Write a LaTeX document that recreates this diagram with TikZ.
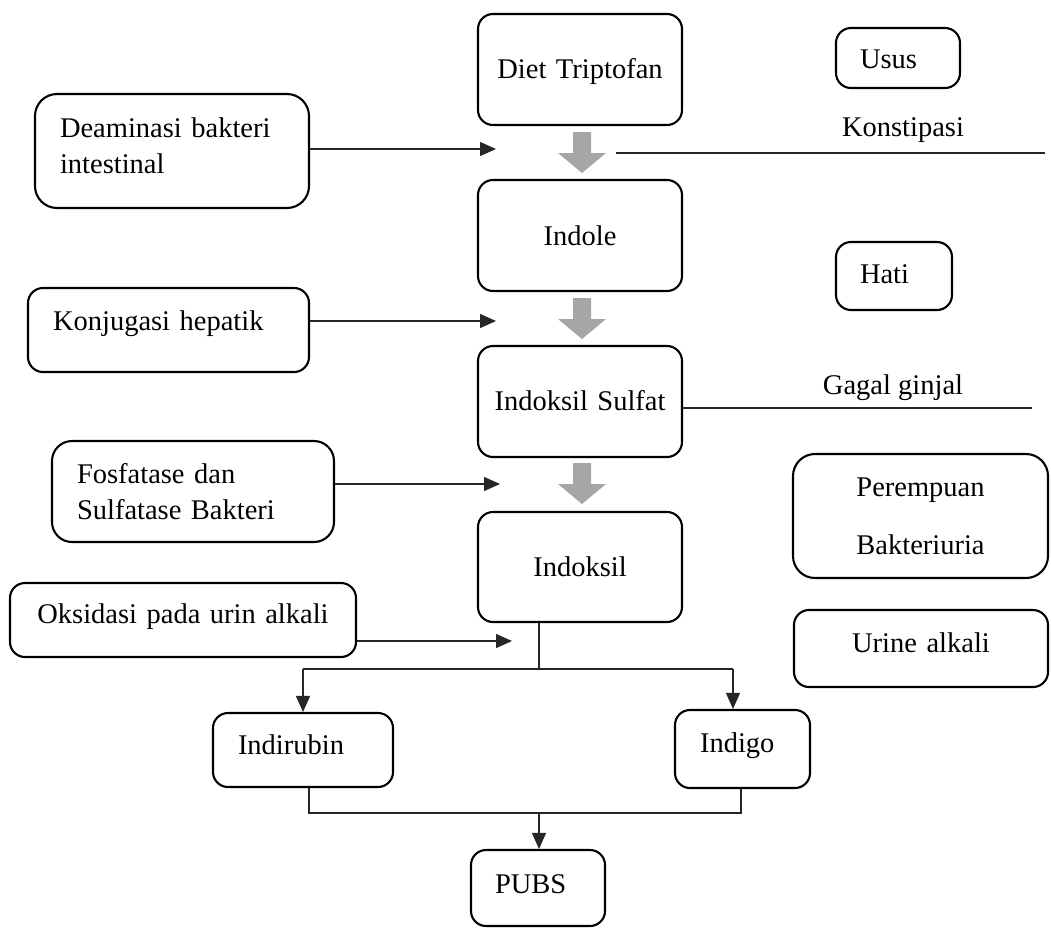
\documentclass[tikz,border=0pt]{standalone}
\usepackage{fontspec}
\setmainfont{Liberation Serif}
\usetikzlibrary{arrows.meta}
\newcommand\fsz{\fontsize{28.5pt}{36pt}\selectfont}
\newcommand\garr[1]{\fill[garrow] (#1) ++(-9,0) -- ++(18,0) -- ++(0,21) -- ++(15,0) -- ++(-24,20) -- ++(-24,-20) -- ++(15,0) -- cycle;}
\begin{document}
\begin{tikzpicture}[x=1pt,y=-1pt,
  box/.style={draw, line width=2.1pt, rounded corners=15pt, inner ysep=0pt, font=\fsz},
  cbox/.style={box, align=center, inner xsep=10pt},
  lbox/.style={box, align=left, inner xsep=25pt},
  conn/.style={line width=1.2pt, draw=black!85},
  arr/.style={conn, -{Triangle[length=16pt,width=14pt]}},
  garrow/.style={fill=black!35},
  lbl/.style={font=\fsz, anchor=base, inner sep=0pt}]
\useasboundingbox (0,0) rectangle (1051,927);

% main column
\node[cbox, text width=184pt, minimum height=111pt, text height=21pt, text depth=4pt] (diet) at (580,69.5) {Diet Triptofan};
\node[cbox, text width=184pt, minimum height=111pt, text height=21pt, text depth=2pt] (indole) at (580,235.5) {Indole};
\node[cbox, text width=184pt, minimum height=111pt, text height=21pt, text depth=4pt] (isul) at (580,401.5) {Indoksil Sulfat};
\node[cbox, text width=184pt, minimum height=110pt, text height=21pt, text depth=3pt] (indoksil) at (580,567) {Indoksil};

% grey arrows
\coordinate (g1) at (582,132);
\coordinate (g2) at (582,298);
\coordinate (g3) at (582,463);
\garr{g1}
\garr{g2}
\garr{g3}

% left boxes
\node[lbox, text width=224pt, minimum height=114pt, rounded corners=22pt] (deam) at (172,151) {Deaminasi bakteri\\intestinal\vspace{10pt}};
\node[lbox, text width=231pt, minimum height=84pt, text height=21pt, text depth=21pt] (konj) at (168.5,330) {Konjugasi hepatik};
\node[lbox, text width=232pt, minimum height=101pt, rounded corners=20pt] (fosf) at (193,491.5) {Fosfatase dan\\Sulfatase Bakteri};
\node[cbox, text width=326pt, minimum height=74pt, text height=21pt, text depth=15pt] (oks) at (183,620) {Oksidasi pada urin alkali};

\coordinate (a1) at (496,149);
\coordinate (a2) at (496,321);
\coordinate (a3) at (500,484);
\coordinate (a4) at (512,641);
\draw[arr] (deam.east |- a1) -- (a1);
\draw[arr] (konj.east |- a2) -- (a2);
\draw[arr] (fosf.east |- a3) -- (a3);
\draw[arr] (oks.east |- a4) -- (a4);

% right side
\node[lbox, inner xsep=24pt, text width=76pt, minimum height=60pt, text height=21pt, text depth=1pt] (usus) at (898,58) {Usus};
\node[lbox, inner xsep=24pt, text width=68pt, minimum height=68pt, text height=21pt, text depth=7pt] (hati) at (894,276) {Hati};
\node[cbox, text width=235pt, minimum height=124pt, rounded corners=22pt] (perem) at (920.5,516) {Perempuan\\[22pt]Bakteriuria};
\node[cbox, text width=234pt, minimum height=77pt, text height=21pt, text depth=14pt] (urine) at (921,648.5) {Urine alkali};

\coordinate (k1) at (616,153);
\coordinate (k2) at (1045,153);
\draw[conn] (k1) -- (k2);
\node[lbl] (konst) at (903,136) {Konstipasi};

\coordinate (gg) at (1032,408);
\draw[conn] (isul.east |- gg) -- (gg);
\node[lbl] (gagal) at (893,394) {Gagal ginjal};

% bottom part
\node[lbox, text width=130pt, minimum height=74pt, text height=21pt, text depth=13pt] (indir) at (303,750) {Indirubin};
\node[lbox, text width=85pt, minimum height=78pt, text height=21pt, text depth=15pt] (indigo) at (742.5,749) {Indigo};
\node[lbox, inner xsep=24pt, text width=86pt, minimum height=76pt, text height=21pt, text depth=11pt] (pubs) at (538,888) {PUBS};

\coordinate (j) at (539,669);
\coordinate (h1) at (303,669);
\coordinate (h2) at (733,669);
\draw[conn] (j |- indoksil.south) -- (j);
\draw[conn] (h1) -- (h2);
\draw[arr] (h1) -- (h1 |- indir.north);
\draw[arr] (h2) -- (h2 |- indigo.north);

\coordinate (b1) at (309,813);
\coordinate (b2) at (741,813);
\coordinate (b3) at (539,813);
\draw[conn] (b1 |- indir.south) -- (b1) -- (b2) -- (b2 |- indigo.south);
\draw[arr] (b3) -- (b3 |- pubs.north);
\end{tikzpicture}
\end{document}
